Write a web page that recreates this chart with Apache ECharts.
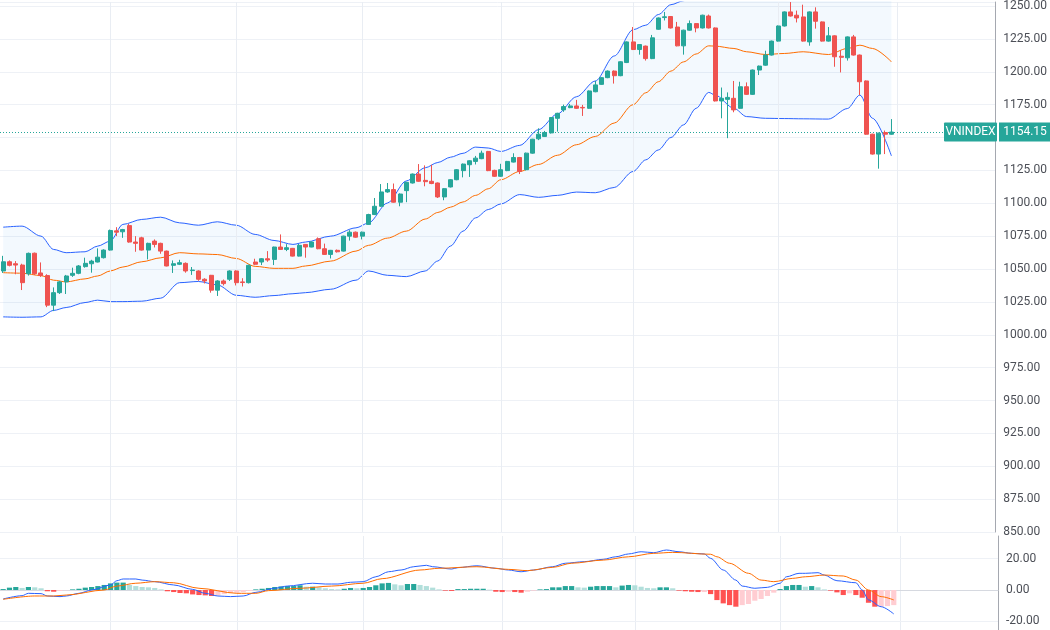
<!DOCTYPE html>
<html><head><meta charset="utf-8">
<script src="https://cdn.jsdelivr.net/npm/echarts@6/dist/echarts.min.js"></script>
<style>html,body{margin:0;padding:0;background:#fff}#c{width:1050px;height:630px}</style>
</head><body><div id="c"></div>
<script>
// ---- price candles (open, close, low, high) ----
const opens = [
1048.5,1055.5,1054,1053,1046.4,1062,1047,1045,1022.5,1032,
1040.2,1045.2,1046.7,1051.8,1054,1055.3,1058.6,1064.4,1079,1078.3,
1083,1070.5,1073.7,1064.4,1071.2,1069.5,1063.6,1052.8,1053.6,1054.3,
1048.8,1048.5,1042.2,1045.2,1033.9,1040.9,1042.2,1048.5,1040.2,1039.6,
1055.3,1055.3,1057.8,1057.3,1066.7,1064.9,1065.7,1059.8,1068.7,1066.7,
1073,1065.4,1061.1,1064.2,1063.6,1075,1078,1075,1083.9,1091.4,
1097.7,1108.6,1110.4,1100.8,1109.6,1115.4,1122.2,1117.4,1116.7,1115.4,
1104.8,1112.4,1117.9,1124.8,1129.3,1131.8,1133.9,1139.4,1125,1120.5,
1124.8,1131.3,1134.8,1125.5,1138.1,1149,1150.8,1153.5,1164.6,1171,
1172.7,1174,1172.9,1172.2,1184.8,1190.4,1195.5,1200.5,1197,1207,
1222.7,1216.9,1219.5,1210,1232.3,1241.2,1242,1234,1219.7,1231.6,
1236.6,1233.3,1242.4,1233.3,1177.8,1179,1179.8,1172.2,1188.6,1182.8,
1201.3,1205,1212.7,1223.3,1234.8,1245.5,1243,1241.7,1222.7,1245.5,
1237.9,1223.3,1227.3,1211.8,1210.6,1226.5,1212.7,1193,1152.5,1137.4,
1153.8,1152.5];
const closes = [
1055.5,1052.8,1053,1039.6,1061.9,1046.4,1045,1022.5,1032,1040.2,
1044.7,1046.7,1052.3,1054.3,1056,1059,1064.4,1079.3,1078,1080,
1070.5,1069.5,1064.4,1069.5,1068.7,1063.6,1052.3,1054,1054.8,1048.5,
1049.2,1042.2,1040.9,1033.9,1040.9,1038.9,1048.5,1039.6,1039.7,1052.8,
1053.6,1057.8,1056.8,1066.7,1064.9,1066.2,1059.8,1068,1066.7,1070.5,
1065.4,1061.1,1064.2,1063.1,1075,1078,1074.2,1078,1091.4,1097.7,
1108.6,1110.4,1100.8,1107,1115.9,1122.2,1116.7,1116.4,1115,1104.8,
1111.1,1117.9,1125.5,1129.8,1132.3,1134.3,1138.1,1124.8,1120.5,1125.5,
1131.8,1134.8,1124.2,1138.1,1148.7,1152.5,1153.8,1165.2,1168.4,1173.5,
1174,1172.2,1172.5,1185.4,1190,1195.5,1200.5,1197,1207.6,1222.7,
1216.9,1220.7,1210,1225.8,1240.9,1241.8,1233.3,1219.7,1231.6,1236.6,
1233.3,1243,1233.3,1177.8,1179.8,1180.5,1171,1188.6,1182.8,1201.3,
1204.3,1212.7,1223.3,1234.8,1245.5,1242.4,1240.9,1223.3,1245.5,1238.4,
1223.3,1227.3,1211.4,1211,1226.5,1212.7,1192.4,1152.5,1137.4,1153.3,
1152.5,1154.15];
const lows = [
1047,1052,1046,1034,1045,1045.5,1044,1021,1018,1031,
1031,1044,1046,1051,1047.2,1055,1058,1064,1075,1073.7,
1070,1063.1,1064,1057.3,1066.4,1061.6,1052,1047,1053,1047.2,
1045.5,1041,1039,1032,1029.5,1037.5,1040.9,1037.5,1036.7,1039,
1053,1053,1055.5,1053,1064.5,1063.6,1059.5,1059.5,1058.6,1066.5,
1065,1060.8,1058,1062.5,1063.3,1071.6,1073.8,1072.5,1083.5,1091,
1097.3,1108,1100.5,1097.7,1100.8,1115,1116.3,1112.9,1114.5,1104,
1102.3,1112,1117.5,1119.7,1120,1129.5,1133.5,1124.4,1120,1120,
1124.4,1131,1122.2,1125,1137.7,1148,1150.4,1153,1154.5,1169.5,
1172.3,1171.8,1166.4,1171.8,1184.4,1190,1195.1,1191,1196.6,1206.6,
1216.5,1213,1208.5,1209.6,1231.9,1239,1232.9,1219.3,1213,1231.2,
1230,1232.9,1232.9,1177.4,1164.6,1149.5,1169.2,1171.8,1182.4,1182.4,
1197.5,1204.6,1212.3,1222.9,1234.4,1242,1237.5,1222.9,1219.8,1232.8,
1222.9,1222.9,1203.8,1199.5,1208.5,1212.3,1182.3,1152.1,1137,1126.3,
1137.4,1152.1];
const highs = [
1060,1056.5,1056,1054,1062.5,1062.5,1055,1046,1036,1041,
1045.5,1051,1053,1058.6,1057,1065.7,1065,1080,1081.8,1080.5,
1084.3,1075,1074.5,1070,1072.5,1070,1064,1056.5,1057,1055,
1051.5,1049,1043,1045.5,1041.5,1042,1049,1049,1043,1053.3,
1057.8,1058.3,1063.6,1067,1076.3,1068.9,1066,1069,1069,1071,
1074,1069.3,1064.5,1064.8,1075.3,1079.5,1078.5,1078.5,1092,1104,
1114.6,1115.4,1115,1107.5,1116.3,1122.6,1129.8,1128.8,1129.3,1115.8,
1111.5,1118.3,1126,1130.2,1132.7,1136,1140,1139.8,1125.5,1130,
1132.2,1138,1135.2,1138.5,1149,1157,1155,1165.6,1168.8,1175,
1175.5,1178.6,1174.8,1185.8,1193,1196,1201,1201,1208,1223.1,
1234,1221.1,1219.9,1228,1241.3,1245.5,1242.4,1237.9,1232,1239,
1237,1243.4,1243.5,1233.7,1188,1184.3,1193,1192.4,1191.9,1201.7,
1204.7,1216,1223.7,1235.2,1245.9,1253,1246.5,1251,1245.9,1249,
1238.3,1234,1227.7,1216.4,1226.9,1228,1213.1,1193.4,1152.9,1153.7,
1155.3,1164];

// ---- Bollinger bands (read at sampled bars) ----
const bbIdx = [0,3,6,8,10,13,15,17,19,22,25,28,31,34,37,40,43,46,48,52,56,58,61,64,67,69,71,73,75,77,79,82,85,88,91,94,97,100,102,104,106,108,110,112,113,116,118,121,124,127,131,134,136,138,141];
const bbUpper = [1081.8,1082.6,1075,1064.9,1062.4,1063.1,1067.4,1071.2,1083.9,1087.7,1089.4,1085.1,1083.3,1085.9,1083.3,1076.3,1071.7,1068.7,1070.5,1075,1081.3,1085,1100.2,1117,1127,1131,1135,1138,1142.7,1142,1139.4,1144,1156,1168,1181,1193,1212,1232,1235.4,1243.5,1251,1254,1257,1258,1258,1262,1264,1262,1262,1265,1262,1266,1258,1271,1279];
const bbMid = [1047.2,1046.8,1045,1041.5,1040.2,1042.5,1044.7,1048.5,1051.5,1055.5,1058.5,1062.4,1061.5,1061,1058,1052,1050.5,1050.5,1052.3,1056,1063.6,1068,1073.5,1078.8,1088,1093,1097,1101,1106,1111,1117.9,1124.2,1129.5,1136.5,1144.5,1150.8,1161,1175,1184,1192.4,1200.5,1207.5,1213.5,1219.7,1219.5,1217.7,1215.2,1213.1,1213.9,1215.2,1213.1,1217.7,1220.2,1217.7,1207.6];
const bbLower = [1013.6,1013.3,1013.6,1018.5,1020.7,1024.5,1026.3,1025.2,1025.2,1025.5,1027.8,1039.6,1040.5,1037.9,1030,1028.5,1029.8,1031.2,1032,1034.6,1041.5,1048.5,1045.2,1044.2,1048.5,1056.1,1067.4,1078.8,1088.9,1095.2,1099.5,1106.6,1104.5,1106,1108.5,1108,1112,1124.2,1133,1140.5,1150,1159.6,1172.2,1184.3,1182.3,1172.2,1165.9,1164.6,1164.4,1164.2,1164,1172,1182.3,1164.6,1136];

// ---- MACD pane ----
const histVals = [
0.6,1.5,1.9,1.3,1.9,1.7,1.1,-0.8,-1.1,-0.6,
-0.2,0.4,0.8,1.5,1.9,2.5,3.2,4.2,4.7,4.7,
3.2,2.5,1.9,1.7,1.3,0.4,-0.8,-1.3,-1.9,-2.1,
-2.8,-3.2,-3.4,-3.8,-3.4,-2.6,-1.9,-1.7,-1.3,-0.6,
0.4,0.8,1.3,1.9,2.3,2.5,2.5,3.0,2.1,2.1,
1.7,1.1,0.6,0.4,0.8,1.3,1.1,1.3,1.9,3.0,
4.2,4.5,3.6,3.0,3.8,3.8,3.2,2.5,1.5,0.4,
-0.4,-0.6,0.6,0.6,0.8,0.8,0.8,0.2,-1.1,-1.3,
-1.1,-1.3,-1.7,-1.1,-0.4,0.4,0.6,1.7,1.7,2.5,
2.5,1.7,1.5,2.1,2.5,2.5,2.5,1.7,2.8,3.2,
3.0,2.1,1.3,1.1,1.7,1.7,1.1,-0.4,-0.8,-1.1,
-1.3,-1.3,-2.6,-6.4,-8.5,-9.6,-10.6,-9.6,-8.9,-6.8,
-5.7,-3.8,-1.7,0.6,2.5,3.2,3.2,2.1,2.5,1.7,
0.4,-0.4,-1.5,-3.2,-2.1,-3.2,-4.9,-8.1,-10.6,-10.6,
-10.2,-9.6];
const macdIdx = [0,3,4,6,7,9,10,12,14,17,18,19,21,22,24,27,30,32,34,36,38,40,43,45,49,51,53,55,57,59,61,63,65,67,68,71,72,75,78,80,82,84,87,89,92,95,97,99,101,103,105,107,109,111,112,114,116,117,119,121,123,124,126,127,129,130,132,135,136,137,139,141];
const macdVals = [-5.7,-3.6,-2.1,-2.3,-3.8,-4.2,-3.8,-2.1,0,3.2,5.9,7,7,6.3,5.3,3.2,0.4,-2.1,-3.8,-4.2,-3.8,-1.5,1.1,2.5,4.3,3.8,3.8,4.9,5.3,8.4,11.6,12.7,14.8,15.7,14.8,13.3,14.2,15.4,13.8,12.7,11.6,12.7,14.8,17,18,19.5,21.1,22.9,24.3,23.7,25.4,24.3,23.3,22.9,20.1,12.7,6.3,2.5,1.1,1.7,4.3,8.4,10.6,10.6,11,9.5,5.9,4.6,0,-6.3,-10.6,-15.2];
const sigIdx = [0,5,8,10,16,18,21,24,27,31,37,40,42,47,52,57,60,66,69,75,80,83,87,90,95,99,103,106,112,113,115,118,120,122,125,127,130,133,135,137,139,141];
const sigVals = [-5.9,-3.8,-3.8,-3.2,0,2.5,4.3,5.3,4.6,1.1,-2.1,-2.1,-0.4,1.1,2.5,4.3,7.2,12.7,13.8,14.8,13.1,12.3,14.4,17,19,21.1,23.3,23.9,22.7,21.1,17,10.6,6.3,5.3,7.4,8.4,9.5,8.9,6.3,0,-4.2,-6.3];

// ---- axes / labels ----
const monthLines = [17,37,57,79,100,123,142];
const totalSlots = 158;
const days = Array.from({length: totalSlots}, (_, i) => 'D' + i);
const priceTicks = {min: 850, max: 1253.03, step: 25};
const macdRange = {min: -25.4, max: 34.3};
const macdTickValues = [-20, 0, 20];
const symbolName = 'VNINDEX';
const lastPrice = 1154.15;

const UP = '#26a69a', DOWN = '#ef5350';
const candleData = opens.map((o, i) => [o, closes[i], lows[i], highs[i]]);
const pairs = (idx, vals) => idx.map((x, k) => [x, vals[k]]);
const histData = histVals.map((v, i) => {
  const p = i > 0 ? histVals[i - 1] : v;
  let c;
  if (v >= 0) c = v >= p ? '#26a69a' : '#b2dfdb';
  else c = v < p ? '#ff5252' : '#ffcdd2';
  return {value: v, itemStyle: {color: c}};
});
const vLines = monthLines.map(i => ({xAxis: i}));
const GRID = '#eef1f6';
const gridLineStyle = {color: GRID, width: 1, type: 'solid'};
const font = 'Roboto, "DejaVu Sans", sans-serif';

const chart = echarts.init(document.getElementById('c'), null, {renderer: 'canvas'});
const bandLine = {type: 'line', xAxisIndex: 0, yAxisIndex: 0, symbol: 'none', smooth: 0.3, smoothMonotone: 'x', silent: true};

chart.setOption({
  animation: false,
  backgroundColor: '#ffffff',
  grid: [
    {left: -1, top: 0, width: 999, height: 532},
    {left: -1, top: 536, width: 999, height: 94}
  ],
  xAxis: [
    {type: 'category', data: days, gridIndex: 0, boundaryGap: true,
     axisLine: {show: false}, axisTick: {show: false}, axisLabel: {show: false}, splitLine: {show: false}},
    {type: 'category', data: days, gridIndex: 1, boundaryGap: true, position: 'top',
     axisLine: {show: true, lineStyle: {color: '#d6d9e0', width: 1}}, axisTick: {show: false}, axisLabel: {show: false}, splitLine: {show: false}}
  ],
  yAxis: [
    {type: 'value', gridIndex: 0, position: 'right', min: priceTicks.min, max: priceTicks.max, interval: priceTicks.step,
     axisLine: {show: true, lineStyle: {color: '#a5a8b0'}}, axisTick: {show: false},
     axisLabel: {color: '#4c4f57', fontSize: 12, fontFamily: font, margin: 8,
       formatter: v => (Math.abs(v % priceTicks.step) < 1e-6 ? v.toFixed(2) : '')},
     splitLine: {show: true, lineStyle: gridLineStyle}},
    {type: 'value', gridIndex: 1, position: 'right', min: macdRange.min, max: macdRange.max,
     axisLine: {show: true, lineStyle: {color: '#a5a8b0'}}, axisTick: {show: false, customValues: macdTickValues},
     axisLabel: {color: '#4c4f57', fontSize: 12, fontFamily: font, margin: 8, customValues: macdTickValues,
       formatter: v => v.toFixed(2)},
     splitLine: {show: false}}
  ],
  series: [
    Object.assign({}, bandLine, {name: 'bbBase', stack: 'bb', z: 1,
      data: pairs(bbIdx, bbLower), lineStyle: {opacity: 0},
      markLine: {silent: true, symbol: 'none', label: {show: false},
        lineStyle: {color: '#e9edf3', width: 1, type: 'solid'}, data: vLines}}),
    Object.assign({}, bandLine, {name: 'bbFill', stack: 'bb', z: 1,
      data: bbIdx.map((x, k) => [x, +(bbUpper[k] - bbLower[k]).toFixed(2)]),
      lineStyle: {opacity: 0}, areaStyle: {color: 'rgba(33,150,243,0.055)', opacity: 1}}),
    Object.assign({}, bandLine, {name: 'upper', z: 2, data: pairs(bbIdx, bbUpper), lineStyle: {color: '#2962ff', width: 1}}),
    Object.assign({}, bandLine, {name: 'lower', z: 2, data: pairs(bbIdx, bbLower), lineStyle: {color: '#2962ff', width: 1}}),
    Object.assign({}, bandLine, {name: 'basis', z: 2, data: pairs(bbIdx, bbMid), lineStyle: {color: '#ff6d00', width: 1}}),
    {type: 'candlestick', name: symbolName, xAxisIndex: 0, yAxisIndex: 0, z: 5, barWidth: '72%',
     data: candleData,
     itemStyle: {color: UP, color0: DOWN, borderColor: UP, borderColor0: DOWN, borderWidth: 1},
     markLine: {silent: true, symbol: 'none', label: {show: false},
       lineStyle: {color: '#26a69a', width: 1, type: [1, 2]}, data: [{yAxis: lastPrice}]}},
    {type: 'bar', name: 'hist', xAxisIndex: 1, yAxisIndex: 1, barWidth: '82%', z: 2, data: histData,
     markLine: {silent: true, symbol: 'none', label: {show: false}, z: 0,
       data: [
         ...vLines.map(d => Object.assign({}, d, {lineStyle: {color: '#e9edf3', width: 1, type: 'solid'}})),
         {yAxis: 20, lineStyle: {color: GRID, width: 1, type: 'solid'}},
         {yAxis: -20, lineStyle: {color: GRID, width: 1, type: 'solid'}},
         {yAxis: 0, lineStyle: {color: '#b2b5be', width: 1, type: [4, 4]}}
       ]}},
    {type: 'line', name: 'macd', xAxisIndex: 1, yAxisIndex: 1, symbol: 'none', smooth: 0.3, smoothMonotone: 'x', z: 3,
     data: pairs(macdIdx, macdVals), lineStyle: {color: '#2962ff', width: 1}},
    {type: 'line', name: 'signal', xAxisIndex: 1, yAxisIndex: 1, symbol: 'none', smooth: 0.3, smoothMonotone: 'x', z: 3,
     data: pairs(sigIdx, sigVals), lineStyle: {color: '#ff6d00', width: 1}}
  ]
});

const py = chart.convertToPixel({yAxisIndex: 0}, lastPrice);
chart.setOption({
  graphic: [
    {type: 'rect', shape: {x: 944, y: Math.round(py) - 9.5, width: 53, height: 19, r: 1}, style: {fill: UP}, z: 100},
    {type: 'text', x: 970.5, y: Math.round(py), style: {text: symbolName, fill: '#fff', font: '12px ' + font, align: 'center', verticalAlign: 'middle'}, z: 101},
    {type: 'rect', shape: {x: 999, y: Math.round(py) - 9.5, width: 51, height: 19}, style: {fill: UP}, z: 100},
    {type: 'text', x: 1025, y: Math.round(py), style: {text: lastPrice.toFixed(2), fill: '#fff', font: '12px ' + font, align: 'center', verticalAlign: 'middle'}, z: 101}
  ]
});
</script>
</body></html>
